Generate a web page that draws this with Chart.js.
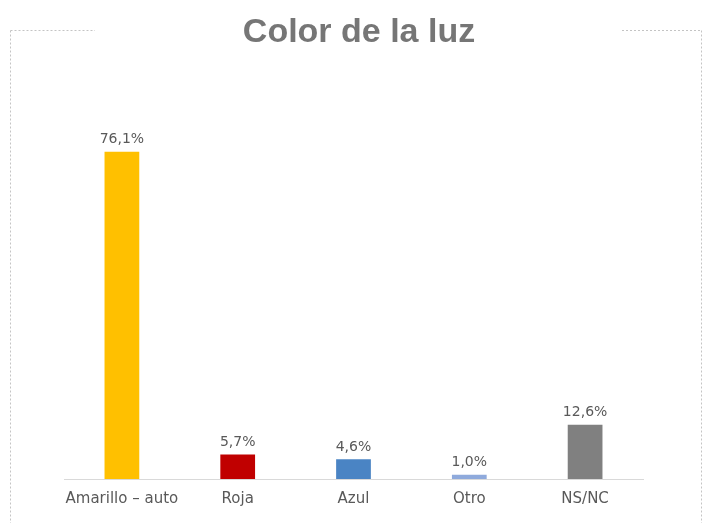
<!DOCTYPE html>
<html>
<head>
<meta charset="utf-8">
<script src="https://cdn.jsdelivr.net/npm/chart.js@4/dist/chart.umd.min.js"></script>
<style>
  html, body { margin: 0; padding: 0; background: #ffffff; }
  #wrap { width: 703px; height: 523px; position: relative; }
</style>
</head>
<body>
<div id="wrap"><canvas id="c" width="703" height="523"></canvas></div>
<script>
// Survey answers: colour of the light
const chartTitle = 'Color de la luz';
const categories = ['Amarillo – auto', 'Roja', 'Azul', 'Otro', 'NS/NC'];
const percentages = [76.1, 5.7, 4.6, 1.0, 12.6];
const barColors = ['#FFC000', '#C00000', '#4A84C4', '#8FAADC', '#808080'];

const TITLE_FONT = '"Liberation Sans", Arial, sans-serif';
const TEXT_FONT = '"DejaVu Sans", Verdana, sans-serif';

// Dashed frame around the chart, broken at the top where the title sits
const framePlugin = {
  id: 'frame',
  beforeDraw(chart) {
    const ctx = chart.ctx;
    ctx.save();
    ctx.strokeStyle = '#c4c4c4';
    ctx.lineWidth = 1;
    ctx.setLineDash([2, 2]);
    ctx.beginPath();
    ctx.moveTo(10.5, 30.5); ctx.lineTo(95, 30.5);
    ctx.moveTo(10.5, 30.5); ctx.lineTo(10.5, 523);
    ctx.moveTo(622, 30.5); ctx.lineTo(701.5, 30.5);
    ctx.moveTo(701.5, 30.5); ctx.lineTo(701.5, 523);
    ctx.stroke();
    ctx.restore();
  }
};

// Title text and the value labels above each bar
const textPlugin = {
  id: 'texts',
  afterDatasetsDraw(chart) {
    const ctx = chart.ctx;
    ctx.save();
    ctx.fillStyle = '#767676';
    ctx.font = 'bold 34px ' + TITLE_FONT;
    ctx.textAlign = 'center';
    ctx.textBaseline = 'alphabetic';
    ctx.fillText(chartTitle, 359, 42);

    ctx.fillStyle = '#595959';
    ctx.font = '14px ' + TEXT_FONT;
    ctx.textBaseline = 'bottom';
    const meta = chart.getDatasetMeta(0);
    meta.data.forEach((bar, i) => {
      const label = percentages[i].toFixed(1).replace('.', ',') + '%';
      ctx.fillText(label, bar.x, bar.y - 5);
    });
    ctx.restore();
  }
};

new Chart(document.getElementById('c'), {
  type: 'bar',
  data: {
    labels: categories,
    datasets: [{
      data: percentages,
      backgroundColor: barColors,
      borderWidth: 0,
      barPercentage: 0.6,
      categoryPercentage: 0.5
    }]
  },
  options: {
    responsive: false,
    animation: false,
    layout: { padding: { left: 64, right: 60, top: 135, bottom: 0 } },
    plugins: {
      legend: { display: false },
      tooltip: { enabled: false },
      title: { display: false }
    },
    scales: {
      x: {
        grid: { display: false, drawTicks: false },
        border: { display: true, color: '#d9d9d9', width: 1 },
        ticks: { color: '#595959', font: { family: TEXT_FONT, size: 15 }, padding: 11, maxRotation: 0 },
        afterFit(scale) { scale.height = 44; }
      },
      y: {
        display: false,
        min: 0,
        max: 80
      }
    }
  },
  plugins: [framePlugin, textPlugin]
});
</script>
</body>
</html>
